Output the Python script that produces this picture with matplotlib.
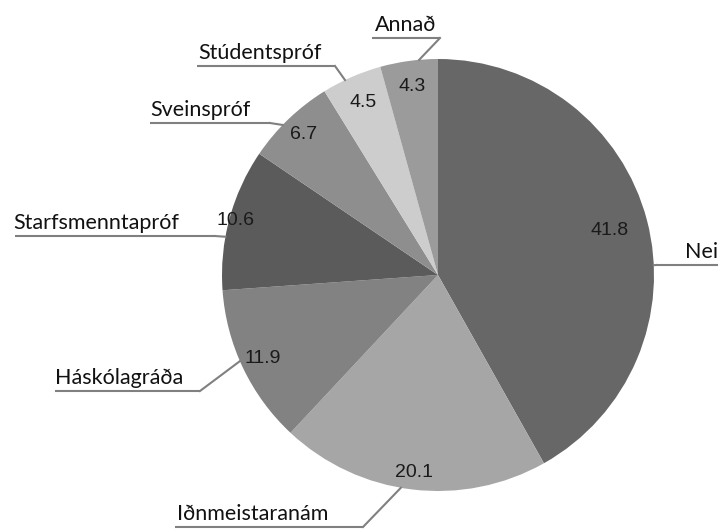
import numpy as np
import matplotlib.pyplot as plt

# ==================================================
# Data
# ==================================================
labels = ["Nei", "Iðnmeistaranám", "Háskólagráða", "Starfsmenntapróf",
          "Sveinspróf", "Stúdentspróf", "Annað"]
values = [41.8, 20.1, 11.9, 10.6, 6.7, 4.5, 4.3]
value_text = ["41.8", "20.1", "11.9", "10.6", "6.7", "4.5", "4.3"]

# ==================================================
# Style / layout (pixels, y measured from top)
# ==================================================
colors = ["#676767", "#a6a6a6", "#828282", "#5b5b5b", "#8e8e8e", "#cdcdcd", "#9b9b9b"]
pct_radius = [0.82, 0.92, 0.90, 0.97, 0.90, 0.87, 0.88]

# text left x, underline y, underline x0, underline x1, edge angle (deg), leader from left end?
label_layout = [
    (685, 265, 656, 718, 2.6, True),
    (177, 527, 175, 363, -99.9, False),
    (55, 391, 55, 200, -156.5, False),
    (13, 236, 15, 215, 169.8, False),
    (150, 123, 150, 270, 136.0, False),
    (198, 66, 197, 335, 115.5, False),
    (375, 38, 372, 440, 95.0, False),
]

W, H = 718, 529
cx, cy, R = 438, 275, 216
line_color = "#808080"

fig = plt.figure(figsize=(W / 100, H / 100), dpi=100)
ax = fig.add_axes([0, 0, 1, 1])

wedges, _ = ax.pie(values, colors=colors, startangle=90, counterclock=False,
                   center=(cx, H - cy), radius=R,
                   wedgeprops=dict(linewidth=0))
ax.set_xlim(0, W)
ax.set_ylim(0, H)
ax.set_aspect("equal")
ax.axis("off")

# values inside the slices
for w, txt, rf in zip(wedges, value_text, pct_radius):
    ang = np.deg2rad((w.theta1 + w.theta2) / 2)
    ax.text(cx + rf * R * np.cos(ang), H - cy + rf * R * np.sin(ang),
            txt, ha="center", va="center", fontsize=14,
            family="Liberation Sans", color="#1a1a1a")

# outer labels: underline + leader line to the pie edge
for lab, (tx, ly, x0, x1, ea, from_left) in zip(labels, label_layout):
    a = np.deg2rad(ea)
    ex, ey = cx + R * np.cos(a), cy - R * np.sin(a)
    ax.plot([x0, x1], [H - ly, H - ly], color=line_color, lw=1.5,
            solid_capstyle="butt")
    elbow = x0 if from_left else x1
    ax.plot([elbow, ex], [H - ly, H - ey], color=line_color, lw=1.5)
    ax.text(tx, H - ly + 3, lab, ha="left", va="bottom", fontsize=15.5,
            family="Lato", color="#111111")

fig.savefig("out.png", dpi=100)
